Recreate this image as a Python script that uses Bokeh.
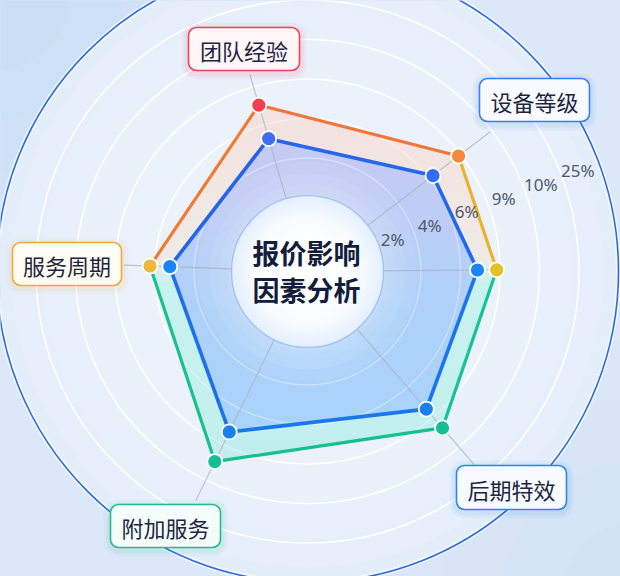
import numpy as np
from bokeh.plotting import figure
from bokeh.models import Range1d, BoxAnnotation, Label
from bokeh.core.properties import value
from bokeh.embed import file_html
from bokeh.resources import INLINE

# ---------------- data ----------------
categories = ["团队经验", "设备等级", "", "后期特效", "附加服务", "服务周期"]
tick_values = [2, 4, 6, 9, 10, 25]
tick_labels = ["2%", "4%", "6%", "9%", "10%", "25%"]
outer_values = [6.26, 7.53, 7.46, 8.78, 9.05, 5.37]
inner_values = [4.40, 5.39, 6.00, 6.90, 6.65, 4.37]
center_title = ["报价影响", "因素分析"]

# ---------------- layout / style ----------------
W, H = 620, 576
CX, CY = 307, 271          # screen pixel coords of the radar centre
R0, STEP = 74.0, 39.5      # radius of level 0 and width of one ring
axis_angles = [106.3, 37.4, 0.5, -49.2, -116.0, 178.0]
axis_ends = [205, 230, 198, 255, 255, 184]
label_boxes = [(188, 27, 299, 70), (479, 78, 589, 121), None,
               (456, 465, 566, 509), (110, 504, 220, 547), (12, 242, 121, 285)]
box_line = ["#ec4458", "#3a7cf1", None, "#2b86ee", "#1fbd8c", "#f2a936"]
box_fill = ["#fff6f7", "#f8fbff", None, "#f7fbff", "#f4fdfa", "#fffcf4"]
outer_seg_colors = ["#f47438", "#e9b22a", "#16c296", "#13c08f", "#18c08e", "#f07a33"]
outer_pt_colors = ["#f2404e", "#f58a3a", "#e3c12a", "#14bf93", "#14bf90", "#ebb93b"]
inner_seg_colors = ["#2566ee", "#2068ee", "#1a74ef", "#1877ee", "#1d6fee", "#2563eb"]
inner_pt_colors = ["#3a6ff0", "#2f6ef5", "#1a86f5", "#1a7ff2", "#1a80f0", "#1a85f5"]


def sy(Y):
    return H - np.asarray(Y, dtype=float)


def to_r(v):
    lv = np.interp(v, [0] + tick_values, [0] + [i + 0.43 for i in range(len(tick_values))])
    return R0 + STEP * lv


def polar(r, ang):
    a = np.radians(ang)
    return CX + r * np.cos(a), CY - r * np.sin(a)


def hexc(c):
    c = c.lstrip("#")
    return np.array([int(c[i:i + 2], 16) for i in (0, 2, 4)], dtype=float)


def mix(stops, y):
    ys = [s[0] for s in stops]
    cols = np.array([hexc(s[1]) for s in stops])
    rgb = [np.interp(y, ys, cols[:, k]) for k in range(3)]
    return "#%02x%02x%02x" % tuple(int(round(v)) for v in rgb)


def clip(pts, keep, y0):
    out = []
    n = len(pts)
    for i in range(n):
        cur, prev = pts[i], pts[i - 1]
        def inter(a, b):
            t = (y0 - a[1]) / (b[1] - a[1])
            return (a[0] + t * (b[0] - a[0]), y0)
        if keep(cur):
            if not keep(prev):
                out.append(inter(prev, cur))
            out.append(cur)
        elif keep(prev):
            out.append(inter(prev, cur))
    return out


def gradient_patches(pts, stops, y_top, y_bot, n=40):
    xs, ys, cs = [], [], []
    edges = np.linspace(y_top - 1, y_bot + 1, n + 1)
    for i in range(n):
        lo, hi = edges[i] - 0.8, edges[i + 1] + 0.8
        part = clip(pts, lambda p: p[1] >= lo, lo)
        if not part:
            continue
        part = clip(part, lambda p: p[1] <= hi, hi)
        if len(part) < 3:
            continue
        xs.append([p[0] for p in part])
        ys.append(list(sy([p[1] for p in part])))
        cs.append(mix(stops, (edges[i] + edges[i + 1]) / 2))
    return xs, ys, cs


p = figure(width=W, height=H, x_range=Range1d(0, W), y_range=Range1d(0, H),
           output_backend="svg", toolbar_location=None, min_border=0,
           x_axis_location=None, y_axis_location=None)
p.grid.visible = False
p.outline_line_color = None
p.background_fill_color = "#dce8f9"
p.border_fill_color = "#dce8f9"

# background glows
p.circle(x=[-10] * 6, y=list(sy([-10] * 6)), radius=[330, 280, 230, 180, 130, 80],
         fill_color="#b9d4f5", fill_alpha=0.10, line_color=None)
p.circle(x=[640] * 4, y=list(sy([600] * 4)), radius=[260, 200, 140, 80],
         fill_color="#bfd6f5", fill_alpha=0.08, line_color=None)

# outer blue circle area with soft brightening towards centre
Rmax = R0 + STEP * 6
p.circle(x=[CX], y=list(sy([CY])), radius=[Rmax], fill_color="#e4eefb", line_color=None)
p.circle(x=[CX] * 4, y=list(sy([CY] * 4)), radius=[Rmax - 15, Rmax - 45, Rmax - 80, Rmax - 120],
         fill_color="white", fill_alpha=0.09, line_color=None)

# rings
ring_r = [R0 + STEP * i for i in range(1, 6)]
p.circle(x=[CX] * 5, y=list(sy([CY] * 5)), radius=ring_r, fill_color=None,
         line_color="white", line_width=1.6, line_alpha=0.95)
# blue outer ring with white glow
p.circle(x=[CX], y=list(sy([CY])), radius=[Rmax], fill_color=None,
         line_color="white", line_width=5, line_alpha=0.6)
p.circle(x=[CX], y=list(sy([CY])), radius=[Rmax], fill_color=None,
         line_color="#2d6be3", line_width=1.6)

# polygons
ro = [to_r(v) for v in outer_values]
ri = [to_r(v) for v in inner_values]
outer_pts = [polar(r, a) for r, a in zip(ro, axis_angles)]
inner_pts = [polar(r, a) for r, a in zip(ri, axis_angles)]

outer_stops = [(100, "#f4e1df"), (200, "#f1e7e3"), (262, "#eeebe7"), (282, "#c9f2ef"), (470, "#c1efee")]
xs, ys, cs = gradient_patches(outer_pts, outer_stops, min(p_[1] for p_ in outer_pts),
                              max(p_[1] for p_ in outer_pts))
p.patches(xs=xs, ys=ys, fill_color=cs, line_color=None)

inner_stops = [(130, "#c7caf3"), (220, "#bdcdf6"), (300, "#afd1f9"), (440, "#a8d3fb")]
xs, ys, cs = gradient_patches(inner_pts, inner_stops, min(p_[1] for p_ in inner_pts),
                              max(p_[1] for p_ in inner_pts))
p.patches(xs=xs, ys=ys, fill_color=cs, line_color=None)

# faint rings over the fills
p.circle(x=[CX] * 5, y=list(sy([CY] * 5)), radius=ring_r, fill_color=None,
         line_color="white", line_width=1.4, line_alpha=0.35)

# glow around centre circle
p.circle(x=[CX] * 4, y=list(sy([CY] * 4)), radius=[110, 98, 88, 80],
         fill_color="white", fill_alpha=0.07, line_color=None)

# axis lines
ax_x0, ax_y0, ax_x1, ax_y1 = [], [], [], []
for a, e in zip(axis_angles, axis_ends):
    x0, y0 = polar(R0 + 2, a)
    x1, y1 = polar(e, a)
    ax_x0.append(x0); ax_y0.append(y0); ax_x1.append(x1); ax_y1.append(y1)
p.segment(x0=ax_x0, y0=list(sy(ax_y0)), x1=ax_x1, y1=list(sy(ax_y1)),
          line_color="#a9b1bd", line_width=1.1, line_alpha=0.75)

# polygon outlines
n = len(categories)
for pts, cols, lw in ((outer_pts, outer_seg_colors, 3.2), (inner_pts, inner_seg_colors, 3.6)):
    mx = [[pts[i][0], pts[(i + 1) % n][0]] for i in range(n)]
    my = [list(sy([pts[i][1], pts[(i + 1) % n][1]])) for i in range(n)]
    p.multi_line(xs=mx, ys=my, line_color=cols, line_width=lw, line_cap="round")

# points
p.scatter(x=[q[0] for q in outer_pts], y=list(sy([q[1] for q in outer_pts])), size=15,
          fill_color=outer_pt_colors, line_color="white", line_width=1.8)
p.scatter(x=[q[0] for q in inner_pts], y=list(sy([q[1] for q in inner_pts])), size=15,
          fill_color=inner_pt_colors, line_color="white", line_width=1.8)

# centre circle with smooth radial gradient
cr = list(np.linspace(76, 30, 16))
ccols = [mix([(30, "#ffffff"), (55, "#f7fbff"), (76, "#e4f0fd")], r) for r in cr]
p.circle(x=[CX] * len(cr), y=list(sy([CY] * len(cr))), radius=cr,
         fill_color=ccols, line_color=None)
p.circle(x=[CX], y=list(sy([CY])), radius=[76], fill_color=None,
         line_color="#9fc3f1", line_width=1.3)
p.text(x=[CX - 1, CX - 1], y=list(sy([252, 289])), text=center_title,
       text_font=value("Noto Sans CJK SC"), text_font_style="bold",
       text_font_size="27px", text_color="#131d3b",
       text_align="center", text_baseline="middle")

# tick labels
tk_r = [to_r(v) for v in tick_values]
tk = [polar(r, 20.5) for r in tk_r]
p.text(x=[q[0] for q in tk], y=list(sy([q[1] for q in tk])), text=tick_labels,
       text_font=value("Noto Sans"), text_font_size="17px", text_color="#4e586c",
       text_align="center", text_baseline="middle")

# category label boxes
for cat, box, lc, fc in zip(categories, label_boxes, box_line, box_fill):
    if not cat:
        continue
    x0, y0, x1, y1 = box
    for g, al in ((7, 0.05), (4, 0.07)):
        p.add_layout(BoxAnnotation(left=x0 - g, right=x1 + g, bottom=H - (y1 + g + 2),
                                   top=H - (y0 - g + 2), fill_color=lc, fill_alpha=al,
                                   line_color=None, border_radius=8 + g))
    p.add_layout(BoxAnnotation(left=x0, right=x1, bottom=H - y1, top=H - y0,
                               fill_color=fc, fill_alpha=1.0, line_color=lc,
                               line_alpha=1.0, line_width=1.6, border_radius=8))
for cat, box in zip(categories, label_boxes):
    if not cat:
        continue
    x0, y0, x1, y1 = box
    p.add_layout(Label(x=(x0 + x1) / 2, y=H - ((y0 + y1) / 2 + 1), text=cat,
                       text_align="center", text_baseline="middle",
                       text_font="Noto Sans CJK SC", text_font_size="22px",
                       text_color="#1c2541"))

html = file_html(p, INLINE)
html = html.replace("<head>", "<head><style>body{background:#dce8f9;}</style>", 1)
open("out.html", "w").write(html)
